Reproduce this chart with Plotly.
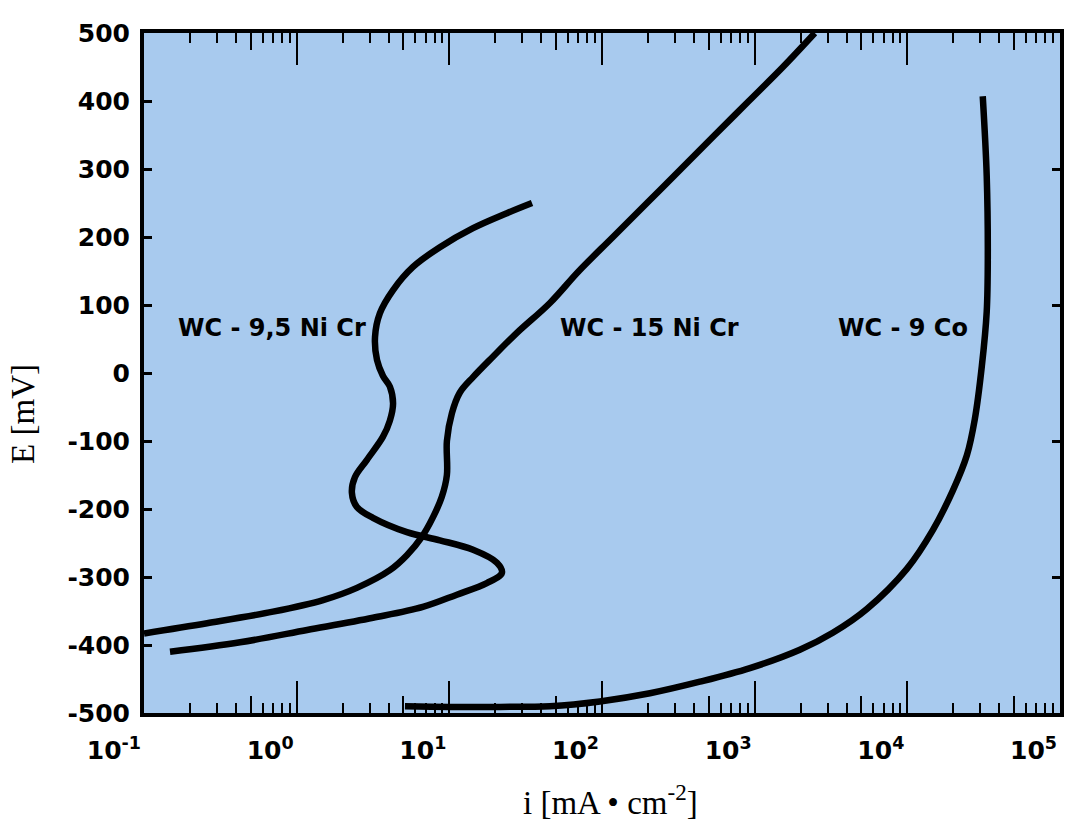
import math
import plotly.graph_objects as go

# ---------------- data ----------------
# WC - 9,5 Ni Cr : current density i [mA/cm2] and potential E [mV]
wc95_i = [0.148, 0.426, 1.17, 3.16, 6.71, 11.2, 17.6, 22.1, 20.5, 14.3, 8.67, 5.27,
          3.16, 2.48, 2.30, 2.41, 2.88, 3.67, 4.08, 4.28, 4.08, 3.67, 3.36, 3.26, 3.51,
          4.28, 5.78, 8.67, 14.3, 23.8, 34.8]
wc95_E = [-410, -396, -378, -360, -344, -326, -309, -294, -279, -260, -246, -234,
          -213, -197, -176, -153, -128, -94, -70, -45, -20, -4, 19, 53, 88,
          122, 156, 185, 213, 235, 250]

# WC - 15 Ni Cr
wc15_i = [0.100, 0.259, 0.700, 1.49, 2.48, 4.08, 5.27, 6.61, 7.82, 8.93, 9.64, 9.64,
          10.4, 11.7, 14.3, 19.3, 27.7, 45.6, 70.6, 118, 197, 329, 548, 916, 1531, 2477]
wc15_E = [-383, -368, -351, -334, -316, -290, -268, -241, -212, -182, -150, -100,
          -59, -29, -6, 24, 59, 103, 150, 200, 250, 300, 350, 400, 450, 500]

# WC - 9 Co
wc9co_i = [5.12, 10.1, 21.4, 45.6, 96.8, 206, 438, 931, 1977, 3251, 5433, 9931,
           14690, 19860, 24550, 27670, 30760, 33110, 33650, 33110, 31190]
wc9co_E = [-490, -491, -491, -490, -483, -471, -454, -434, -407, -382, -347, -288,
           -231, -173, -121, -68, 10, 90, 168, 290, 407]

series_names = ["WC - 9,5 Ni Cr", "WC - 15 Ni Cr", "WC - 9 Co"]
label_i = [0.688, 206, 9330]
label_E = [66, 66, 66]

# axis ticks
x_decades = [0.1, 1, 10, 100, 1000, 10000, 100000]
x_ticklabels = ["10<sup>-1</sup>", "10<sup>0</sup>", "10<sup>1</sup>", "10<sup>2</sup>",
                "10<sup>3</sup>", "10<sup>4</sup>", "10<sup>5</sup>"]
y_ticks = [-500, -400, -300, -200, -100, 0, 100, 200, 300, 400, 500]
y_ticklabels = ["-500", "-400", "-300", "-200", "-100", "0", "100", "200", "300", "400", "500"]
y_right_ticks = [-300, -100, 100, 300]

x_minor = [m * d for d in x_decades[:-1] for m in (2, 3, 4, 6, 7, 8, 9)]
x_fives = [5 * d for d in x_decades[:-1]]

# ---------------- figure ----------------
fig = go.Figure()
line_style = dict(color="black", width=6.5, shape="spline", smoothing=1.0)
for xs, ys in [(wc95_i, wc95_E), (wc15_i, wc15_E), (wc9co_i, wc9co_E)]:
    fig.add_trace(go.Scatter(x=xs, y=ys, mode="lines", line=line_style,
                             showlegend=False, hoverinfo="skip"))

# empty traces to activate overlay axes
fig.add_trace(go.Scatter(x=[None], y=[None], xaxis="x2", yaxis="y", showlegend=False))
fig.add_trace(go.Scatter(x=[None], y=[None], xaxis="x3", yaxis="y", showlegend=False))
fig.add_trace(go.Scatter(x=[None], y=[None], xaxis="x4", yaxis="y", showlegend=False))
fig.add_trace(go.Scatter(x=[None], y=[None], xaxis="x", yaxis="y2", showlegend=False))

tick_font = dict(family="DejaVu Sans", size=25, color="black", weight="bold")
xr = [-1, 5]
yr = [-500, 500]
common_overlay = dict(type="log", range=xr, overlaying="x", anchor="y", showgrid=False,
                      zeroline=False, showline=False, showticklabels=False,
                      ticks="inside", tickcolor="black", tickwidth=2, automargin=False)
minor_style = dict(tickvals=x_minor, ticks="inside", ticklen=10, tickwidth=2,
                   tickcolor="black", showgrid=False)

fig.update_layout(
    width=1065, height=822,
    margin=dict(l=144, r=5, t=33, b=109, autoexpand=False),
    paper_bgcolor="white",
    plot_bgcolor="#a8caee",
    xaxis=dict(type="log", range=xr, tickvals=x_decades, ticktext=x_ticklabels,
               ticks="inside", ticklen=32, tickwidth=2, tickcolor="black",
               showline=True, linewidth=4, linecolor="black", mirror=True,
               showgrid=False, zeroline=False, minor=minor_style,
               tickfont=tick_font, ticklabelposition="outside left",
               ticklabelstandoff=12, automargin=False),
    xaxis2=dict(side="bottom", tickvals=x_fives, ticklen=17, **common_overlay),
    xaxis3=dict(side="top", tickvals=x_decades, ticklen=32, minor=minor_style,
                **common_overlay),
    xaxis4=dict(side="top", tickvals=x_fives, ticklen=17, **common_overlay),
    yaxis=dict(range=yr, tickvals=y_ticks, ticktext=y_ticklabels,
               ticks="inside", ticklen=8, tickwidth=3, tickcolor="black",
               showline=True, linewidth=4, linecolor="black", mirror=True,
               showgrid=False, zeroline=False, tickfont=tick_font,
               ticklabelstandoff=5, automargin=False),
    yaxis2=dict(range=yr, overlaying="y", side="right", anchor="x",
                tickvals=y_right_ticks, ticks="inside", ticklen=8, tickwidth=3,
                tickcolor="black", showticklabels=False, showgrid=False,
                zeroline=False, showline=False, automargin=False),
)

for name, li, le in zip(series_names, label_i, label_E):
    fig.add_annotation(x=math.log10(li), y=le, xref="x", yref="y", text=name,
                       showarrow=False,
                       font=dict(family="DejaVu Sans", size=24, color="black",
                                 weight="bold"))

title_font = dict(family="Liberation Serif", size=33, color="black")
fig.add_annotation(x=0.509, y=-0.128, xref="paper", yref="paper",
                   text="i [mA • cm<sup>-2</sup>]", showarrow=False,
                   xanchor="center", yanchor="middle", font=title_font)
fig.add_annotation(x=-0.132, y=0.44, xref="paper", yref="paper",
                   text="E [mV]", showarrow=False, textangle=-90,
                   xanchor="center", yanchor="middle", font=title_font)

fig.write_html(
    "out.html",
    config={"displayModeBar": False},
    post_script="document.body.style.margin='0px';"
                "document.documentElement.style.overflow='hidden';",
)
